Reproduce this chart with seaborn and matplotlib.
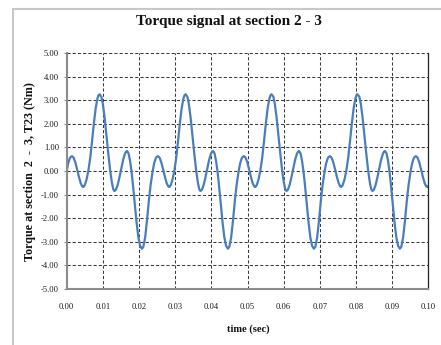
import numpy as np
import pandas as pd
import matplotlib
matplotlib.use("Agg")
import matplotlib.pyplot as plt
import seaborn as sns
from matplotlib.patches import Rectangle

# time in milliseconds
time_ms = [
    0.00, 0.40, 0.80, 1.10, 1.47, 1.90, 2.40, 2.90, 3.40, 3.90, 4.30, 4.60, 5.00, 5.50, 6.00, 6.50, 7.00, 7.50,
    8.00, 8.50, 8.80, 9.10, 9.60, 10.00, 10.50, 11.00, 11.50, 12.00, 12.50, 12.90, 13.20, 13.60, 14.10, 14.60,
    15.10, 15.60, 16.10, 16.40, 16.70, 17.10, 17.50, 17.90, 18.30, 18.80, 19.30, 19.80, 20.30, 20.80, 21.20,
    21.70, 22.20, 22.70, 23.20,
    23.78, 24.18, 24.58, 24.88, 25.25, 25.68, 26.18, 26.68, 27.18, 27.68, 28.08, 28.38, 28.78, 29.28, 29.78,
    30.28, 30.78, 31.28, 31.78, 32.28, 32.58, 32.88, 33.38, 33.78, 34.28, 34.78, 35.28, 35.78, 36.28, 36.68,
    36.98, 37.38, 37.88, 38.38, 38.88, 39.38, 39.88, 40.18, 40.48, 40.88, 41.28, 41.68, 42.08, 42.58, 43.08,
    43.58, 44.08, 44.58, 44.98, 45.48, 45.98, 46.48, 46.98,
    47.56, 47.96, 48.36, 48.66, 49.03, 49.46, 49.96, 50.46, 50.96, 51.46, 51.86, 52.16, 52.56, 53.06, 53.56,
    54.06, 54.56, 55.06, 55.56, 56.06, 56.36, 56.66, 57.16, 57.56, 58.06, 58.56, 59.06, 59.56, 60.06, 60.46,
    60.76, 61.16, 61.66, 62.16, 62.66, 63.16, 63.66, 63.96, 64.26, 64.66, 65.06, 65.46, 65.86, 66.36, 66.86,
    67.36, 67.86, 68.36, 68.76, 69.26, 69.76, 70.26, 70.76,
    71.34, 71.74, 72.14, 72.44, 72.81, 73.24, 73.74, 74.24, 74.74, 75.24, 75.64, 75.94, 76.34, 76.84, 77.34,
    77.84, 78.34, 78.84, 79.34, 79.84, 80.14, 80.44, 80.94, 81.34, 81.84, 82.34, 82.84, 83.34, 83.84, 84.24,
    84.54, 84.94, 85.44, 85.94, 86.44, 86.94, 87.44, 87.74, 88.04, 88.44, 88.84, 89.24, 89.64, 90.14, 90.64,
    91.14, 91.64, 92.14, 92.54, 93.04, 93.54, 94.04, 94.54,
    95.12, 95.52, 95.92, 96.22, 96.59, 97.02, 97.52, 98.02, 98.52, 99.02, 99.42, 99.72, 100.00,
]

# torque T23 in Nm
torque_nm = [
    0.00, 0.32, 0.52, 0.60, 0.63, 0.57, 0.36, 0.06, -0.26, -0.53, -0.65, -0.68, -0.60, -0.35, 0.02, 0.55, 1.25, 2.00,
    2.65, 3.08, 3.22, 3.26, 3.15, 2.85, 2.25, 1.50, 0.75, 0.05, -0.50, -0.78, -0.85, -0.80, -0.59, -0.26,
    0.11, 0.47, 0.73, 0.82, 0.85, 0.75, 0.45, 0.02, -0.55, -1.35, -2.15, -2.80, -3.18, -3.30, -3.22,
    -2.82, -2.12, -1.30, -0.60,
    0.00, 0.32, 0.52, 0.60, 0.63, 0.57, 0.36, 0.06, -0.26, -0.53, -0.65, -0.68, -0.60, -0.35, 0.02,
    0.55, 1.25, 2.00, 2.65, 3.08, 3.22, 3.26, 3.15, 2.85, 2.25, 1.50, 0.75, 0.05, -0.50, -0.78,
    -0.85, -0.80, -0.59, -0.26, 0.11, 0.47, 0.73, 0.82, 0.85, 0.75, 0.45, 0.02, -0.55, -1.35, -2.15,
    -2.80, -3.18, -3.30, -3.22, -2.82, -2.12, -1.30, -0.60,
    0.00, 0.32, 0.52, 0.60, 0.63, 0.57, 0.36, 0.06, -0.26, -0.53, -0.65, -0.68, -0.60, -0.35, 0.02,
    0.55, 1.25, 2.00, 2.65, 3.08, 3.22, 3.26, 3.15, 2.85, 2.25, 1.50, 0.75, 0.05, -0.50, -0.78,
    -0.85, -0.80, -0.59, -0.26, 0.11, 0.47, 0.73, 0.82, 0.85, 0.75, 0.45, 0.02, -0.55, -1.35, -2.15,
    -2.80, -3.18, -3.30, -3.22, -2.82, -2.12, -1.30, -0.60,
    0.00, 0.32, 0.52, 0.60, 0.63, 0.57, 0.36, 0.06, -0.26, -0.53, -0.65, -0.68, -0.60, -0.35, 0.02,
    0.55, 1.25, 2.00, 2.65, 3.08, 3.22, 3.26, 3.15, 2.85, 2.25, 1.50, 0.75, 0.05, -0.50, -0.78,
    -0.85, -0.80, -0.59, -0.26, 0.11, 0.47, 0.73, 0.82, 0.85, 0.75, 0.45, 0.02, -0.55, -1.35, -2.15,
    -2.80, -3.18, -3.30, -3.22, -2.82, -2.12, -1.30, -0.60,
    0.00, 0.32, 0.52, 0.60, 0.63, 0.57, 0.36, 0.06, -0.26, -0.53, -0.65, -0.68, -0.64,
]

x_ticks = [0.00, 0.01, 0.02, 0.03, 0.04, 0.05, 0.06, 0.07, 0.08, 0.09, 0.10]
x_tick_labels = ["0.00", "0.01", "0.02", "0.03", "0.04", "0.05", "0.06", "0.07", "0.08", "0.09", "0.10"]
y_ticks = [-5, -4, -3, -2, -1, 0, 1, 2, 3, 4, 5]
y_tick_labels = ["-5.00", "-4.00", "-3.00", "-2.00", "-1.00", "0.00", "1.00", "2.00", "3.00", "4.00", "5.00"]

title = "Torque signal at section 2 - 3"
x_label = "time (sec)"
y_label = "Torque at section  2  -  3, T23 (Nm)"

sns.set_theme(style="white")
plt.rcParams['font.family'] = ['Liberation Serif', 'DejaVu Serif']

W, H = 441, 345
fig = plt.figure(figsize=(W / 100, H / 100), dpi=100)
fig.patch.set_facecolor("white")

left_px, right_px, top_px, bottom_px = 66.7, 428.3, 53.3, 288.7
ax = fig.add_axes([left_px / W, 1 - bottom_px / H, (right_px - left_px) / W, (bottom_px - top_px) / H])
ax.set_facecolor("white")

df = pd.DataFrame({"time": np.array(time_ms) / 1000.0, "torque": torque_nm})
sns.lineplot(data=df, x="time", y="torque", ax=ax, color="#4a7ebb", linewidth=1.6,
             estimator=None, sort=False)

ax.set_xlim(0, 0.1)
ax.set_ylim(-5, 5)
ax.set_xticks(x_ticks)
ax.set_xticklabels(x_tick_labels)
ax.set_yticks(y_ticks)
ax.set_yticklabels(y_tick_labels)

ax.grid(True, color="#3a3a3a", linestyle=(0, (3, 2)), linewidth=0.75)
ax.set_axisbelow(True)

for side in ["left", "bottom"]:
    ax.spines[side].set_color("#8c8c8c")
    ax.spines[side].set_linewidth(1.5)
ax.spines["top"].set_visible(False)
ax.spines["right"].set_color("#222222")
ax.spines["right"].set_linewidth(0.9)

ax.tick_params(axis="y", which="major", length=2.5, width=0.8, color="#8c8c8c",
               labelsize=6.1, labelcolor="#1a1a1a", pad=3, left=True)
ax.tick_params(axis="x", which="major", length=0, labelsize=6.1, labelcolor="#1a1a1a", pad=10)

ax.set_xlabel(x_label, fontsize=7.6, fontweight="bold", color="#111111", va="center")
ax.xaxis.set_label_coords((248 - left_px) / (right_px - left_px), (bottom_px - 329) / (bottom_px - top_px))
ax.set_ylabel(y_label, fontsize=8.7, fontweight="bold", color="#111111", va="center")
ax.yaxis.set_label_coords((30 - left_px) / (right_px - left_px), (bottom_px - 171.5) / (bottom_px - top_px))

ax.set_title(title, fontsize=11, fontweight="bold", color="#111111",
             x=(229 - left_px) / (right_px - left_px), y=(bottom_px - 30) / (bottom_px - top_px), va="center")

# light outer chart-area border (only top and left visible in the crop)
fig.patches.append(Rectangle((13 / W, -0.1), 1.2, (H - 9) / H + 0.1, transform=fig.transFigure,
                             fill=False, edgecolor="#c8c8c8", linewidth=1.5, zorder=0))

fig.savefig("out.png", dpi=100, facecolor="white")
